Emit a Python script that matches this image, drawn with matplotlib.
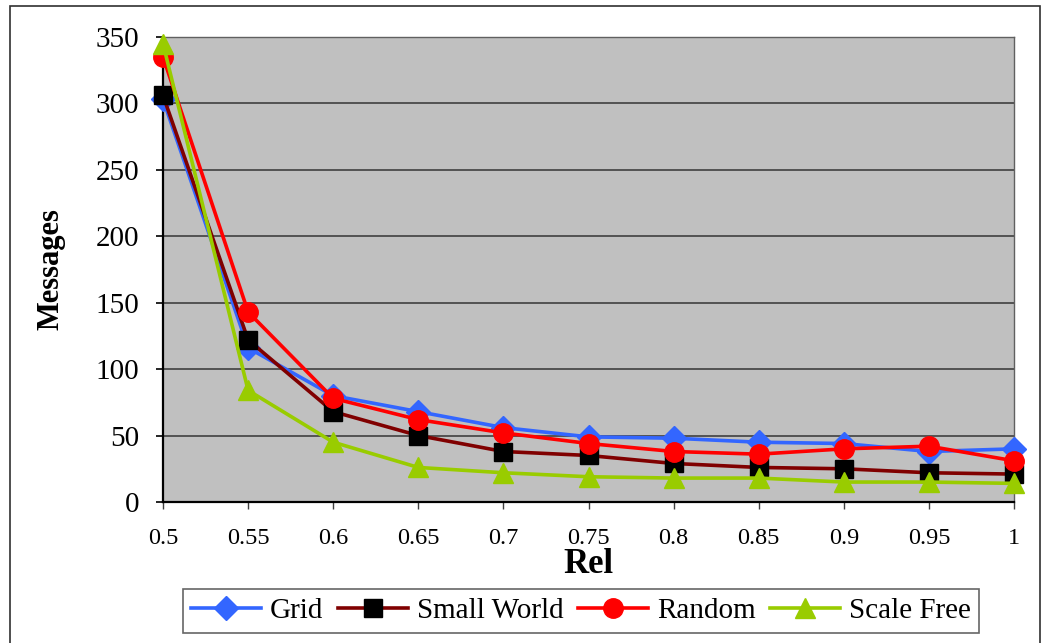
import matplotlib
matplotlib.use('Agg')
import matplotlib.pyplot as plt
from matplotlib.patches import Rectangle

plt.rcParams['font.family'] = ['Liberation Serif', 'DejaVu Serif']

rel = [0.5, 0.55, 0.6, 0.65, 0.7, 0.75, 0.8, 0.85, 0.9, 0.95, 1.0]
rel_labels = ['0.5', '0.55', '0.6', '0.65', '0.7', '0.75', '0.8',
              '0.85', '0.9', '0.95', '1']
grid = [303, 116, 80, 68, 56, 49, 48, 45, 44, 38, 40]
small_world = [306, 122, 68, 50, 38, 35, 29, 26, 25, 22, 21]
random_net = [335, 143, 78, 62, 52, 44, 38, 36, 40, 42, 31]
scale_free = [345, 84, 45, 26, 22, 19, 18, 18, 15, 15, 14]

fig = plt.figure(figsize=(10.47, 6.43), dpi=100)
ax = fig.add_axes([0.1557, 0.2193, 0.9685 - 0.1557, 0.9425 - 0.2193])
ax.set_facecolor('#C0C0C0')

ax.plot(rel, grid, color='#3366FF', lw=2.6, marker='D', ms=12,
        mec='#3366FF', mfc='#3366FF', label='Grid', zorder=3, clip_on=False)
ax.plot(rel, small_world, color='#800000', lw=2.6, marker='s', ms=13,
        mec='black', mfc='black', label='Small World', zorder=4, clip_on=False)
ax.plot(rel, random_net, color='#FF0000', lw=2.6, marker='o', ms=14,
        mec='#FF0000', mfc='#FF0000', label='Random', zorder=5, clip_on=False)
ax.plot(rel, scale_free, color='#99CC00', lw=2.6, marker='^', ms=15,
        mec='#99CC00', mfc='#99CC00', label='Scale Free', zorder=6, clip_on=False)

ax.set_xlim(0.5, 1.0)
ax.set_ylim(0, 350)
ax.set_xticks(rel)
ax.set_xticklabels(rel_labels, fontsize=17.5)
ax.set_yticks(range(0, 351, 50))
ax.tick_params(axis='y', labelsize=21, direction='out', length=5, width=1.2, pad=12)
ax.tick_params(axis='x', direction='out', length=5, width=1, color='#404040', pad=14)
ax.yaxis.grid(True, color='#404040', lw=1.2)
ax.set_axisbelow(True)
for s in ['top', 'right']:
    ax.spines[s].set_color('#606060')
    ax.spines[s].set_linewidth(1)
for s in ['left', 'bottom']:
    ax.spines[s].set_color('black')
    ax.spines[s].set_linewidth(1.6)

ax.set_ylabel('Messages', fontsize=22, fontweight='bold')
ax.yaxis.set_label_coords(-0.115, 0.5)
ax.set_xlabel('Rel', fontsize=25, fontweight='bold')
ax.xaxis.set_label_coords(0.5, -0.10)

leg = fig.legend(loc='center', bbox_to_anchor=(0.555, 0.05), ncol=4,
                 fontsize=21, frameon=True, fancybox=False,
                 handlelength=2.4, columnspacing=0.5, handletextpad=0.3,
                 borderpad=0.3)
leg.get_frame().set_edgecolor('#404040')
leg.get_frame().set_linewidth(1.2)

fig.patches.append(Rectangle((10 / 1047, -0.02), 1030 / 1047, 1.02 - 6 / 643,
                             transform=fig.transFigure, fill=False,
                             edgecolor='#303030', lw=1.2))

fig.savefig('out.png', dpi=100)
